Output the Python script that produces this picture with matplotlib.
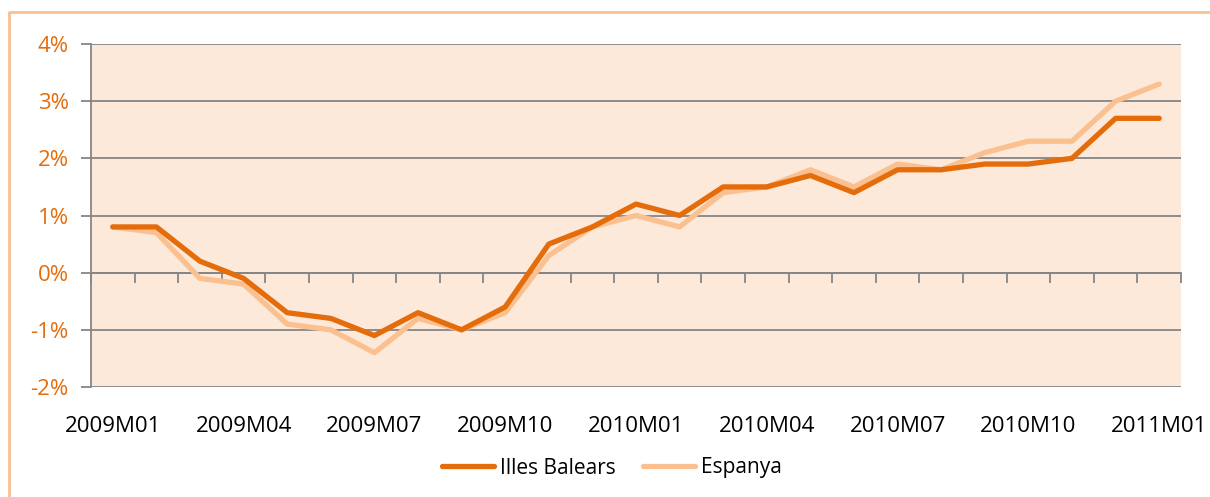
import matplotlib.pyplot as plt
from matplotlib.lines import Line2D
from matplotlib.ticker import FixedLocator, FuncFormatter

months = ["2009M01", "2009M02", "2009M03", "2009M04", "2009M05", "2009M06",
          "2009M07", "2009M08", "2009M09", "2009M10", "2009M11", "2009M12",
          "2010M01", "2010M02", "2010M03", "2010M04", "2010M05", "2010M06",
          "2010M07", "2010M08", "2010M09", "2010M10", "2010M11", "2010M12",
          "2011M01"]

balears = [0.8, 0.8, 0.2, -0.1, -0.7, -0.8, -1.1, -0.7, -1.0, -0.6, 0.5, 0.8,
           1.2, 1.0, 1.5, 1.5, 1.7, 1.4, 1.8, 1.8, 1.9, 1.9, 2.0, 2.7, 2.7]
espanya = [0.8, 0.7, -0.1, -0.2, -0.9, -1.0, -1.4, -0.8, -1.0, -0.7, 0.3, 0.8,
           1.0, 0.8, 1.4, 1.5, 1.8, 1.5, 1.9, 1.8, 2.1, 2.3, 2.3, 3.0, 3.3]

y_ticks = [-2, -1, 0, 1, 2, 3, 4]

dark = "#E46C0A"
light = "#FAC090"
grid_col = "#868686"

plt.rcParams["font.family"] = ["Open Sans", "DejaVu Sans"]

fig = plt.figure(figsize=(12.1, 4.97), dpi=100)
ax = fig.add_axes([91 / 1210, 1 - 387 / 497, 1090 / 1210, 343 / 497])
ax.set_facecolor("#FDE9D9")

x = list(range(len(months)))
ax.plot(x, espanya, color=light, lw=3.8, solid_capstyle="round", label="Espanya", zorder=3)
ax.plot(x, balears, color=dark, lw=3.8, solid_capstyle="round", label="Illes Balears", zorder=4)

ax.set_xlim(-0.5, len(months) - 0.5)
ax.set_ylim(-2, 4)

# y axis
ax.set_yticks(y_ticks)
ax.yaxis.set_major_formatter(FuncFormatter(lambda v, p: f"{int(v)}%"))
ax.tick_params(axis="y", length=7, width=1.3, color=grid_col, labelcolor=dark,
               labelsize=16, pad=9)
ax.grid(axis="y", color=grid_col, lw=1.3)
ax.set_axisbelow(True)

for s in ["top", "right"]:
    ax.spines[s].set_visible(False)
ax.spines["left"].set_color(grid_col)
ax.spines["left"].set_linewidth(1.3)

# category axis at zero with ticks between categories
ax.spines["bottom"].set_position(("data", 0))
ax.spines["bottom"].set_color(grid_col)
ax.spines["bottom"].set_linewidth(1.3)
ax.xaxis.set_major_locator(FixedLocator([i - 0.5 for i in range(len(months) + 1)]))
ax.set_xticklabels([])
ax.tick_params(axis="x", length=7, width=1.3, color=grid_col)

# labels every 3 months along the bottom
sec = ax.secondary_xaxis("bottom")
sec.set_xticks(x[::3])
sec.set_xticklabels(months[::3])
sec.tick_params(length=0, pad=21, labelsize=16, labelcolor="black")
sec.spines["bottom"].set_visible(False)

handles, labels = ax.get_legend_handles_labels()
fig.legend(handles[::-1], labels[::-1], loc="center", bbox_to_anchor=(612 / 1210, 1 - 468 / 497),
           ncol=2, frameon=False, fontsize=15, handlelength=2.5, handletextpad=0.3,
           columnspacing=1.3)

# outer chart frame
fig.add_artist(Line2D([9 / 1210, 9 / 1210, 1.0], [0.0, 1 - 12 / 497, 1 - 12 / 497],
                      transform=fig.transFigure, color=light, lw=2))

fig.savefig("out.png", dpi=100)
